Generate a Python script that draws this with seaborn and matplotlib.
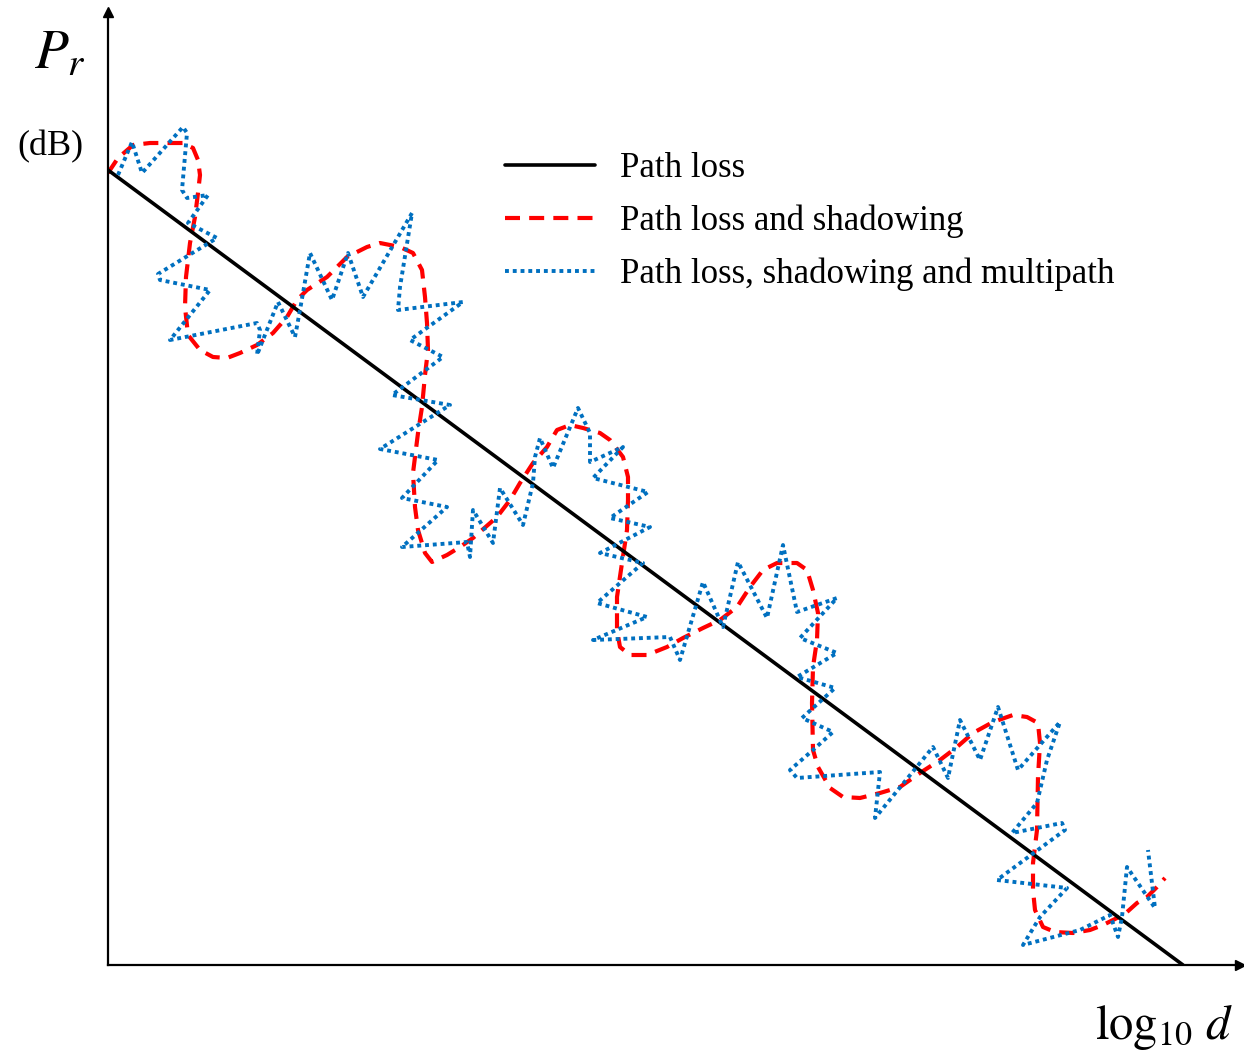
import matplotlib
matplotlib.use("Agg")
import matplotlib.pyplot as plt
import seaborn as sns

# Deterministic path loss: straight decline against log-distance
pl_logd = [0, 1075]
pl_pr = [795, 0]

# Path loss with slow shadowing variations
sh_logd = [0, 10, 17, 25, 42, 75, 85, 90, 92, 90, 87, 82, 78, 77, 80, 92, 105, 119, 132, 149,
           165, 179, 189, 199, 219, 239, 259, 272, 292, 305, 314, 317, 319, 320, 317, 314, 310,
           305, 307, 310, 317, 324, 339, 352, 365, 389, 402, 412, 425, 439, 449, 462, 475, 492,
           502, 515, 520, 520, 519, 514, 509, 509, 512, 522, 539, 559, 575, 595, 612, 629, 642,
           655, 669, 689, 699, 705, 710, 709, 705, 704, 705, 710, 722, 735, 752, 772, 792, 812,
           832, 849, 865, 885, 905, 919, 930, 932, 930, 929, 925, 925, 927, 935, 947, 965, 982,
           995, 1009, 1019, 1029, 1039, 1049, 1057]
sh_pr = [792, 807, 813, 820, 822, 822, 817, 805, 790, 772, 748, 722, 688, 658, 630, 615, 608,
         607, 612, 620, 632, 648, 665, 675, 688, 708, 718, 722, 718, 712, 695, 668, 642, 615,
         590, 558, 532, 492, 458, 435, 412, 403, 410, 418, 427, 448, 465, 482, 502, 518, 535,
         540, 537, 532, 525, 508, 488, 465, 435, 402, 368, 335, 318, 310, 310, 318, 327, 337,
         345, 358, 378, 395, 402, 402, 395, 375, 352, 325, 298, 262, 215, 198, 177, 168, 167,
         172, 178, 192, 205, 218, 232, 243, 250, 248, 242, 222, 188, 135, 102, 75, 55, 38, 33,
         32, 35, 40, 47, 53, 62, 68, 78, 87]

# Path loss with shadowing and fast multipath fading
mp_logd = [10, 24, 34, 75, 79, 74, 79, 100, 80, 109, 50, 52, 102, 62, 149, 152, 149, 170, 187,
           192, 202, 224, 240, 255, 304, 292, 290, 355, 302, 335, 284, 342, 272, 330, 294, 339,
           294, 359, 362, 365, 385, 392, 415, 425, 427, 432, 445, 470, 482, 482, 515, 485, 540,
           502, 542, 492, 535, 489, 539, 485, 562, 572, 595, 615, 630, 659, 675, 689, 729, 692,
           729, 689, 727, 694, 725, 705, 682, 689, 772, 767, 825, 840, 852, 872, 890, 910, 952,
           939, 929, 904, 954, 957, 889, 959, 932, 915, 972, 1002, 1010, 1014, 1019, 1047, 1040]
mp_pr = [790, 823, 792, 838, 832, 775, 767, 770, 742, 727, 691, 685, 675, 625, 642, 635, 610,
         663, 628, 655, 712, 665, 712, 668, 752, 678, 655, 663, 625, 608, 570, 560, 516, 505,
         467, 458, 418, 423, 408, 455, 422, 477, 440, 482, 508, 527, 497, 557, 532, 503, 518,
         487, 473, 447, 438, 412, 402, 362, 348, 325, 328, 305, 383, 338, 403, 347, 420, 353,
         367, 327, 312, 288, 277, 247, 233, 215, 195, 187, 193, 147, 218, 187, 245, 205, 258,
         195, 243, 205, 162, 132, 142, 135, 85, 77, 48, 20, 35, 50, 28, 48, 98, 57, 115]

labels = ["Path loss", "Path loss and shadowing", "Path loss, shadowing and multipath"]

sns.set_theme(style="white")
plt.rcParams["font.family"] = ["Liberation Serif", "DejaVu Serif"]
plt.rcParams["mathtext.fontset"] = "stix"
plt.rcParams["text.color"] = "black"

W, H = 1244, 1061
fig = plt.figure(figsize=(W / 100, H / 100), dpi=100)
ax = fig.add_axes([108 / W, 96 / H, 1132 / W, 953 / H])

sns.lineplot(x=pl_logd, y=pl_pr, sort=False, estimator=None, color="black",
             linewidth=2.6, label=labels[0], ax=ax, zorder=3)
sns.lineplot(x=sh_logd, y=sh_pr, sort=False, estimator=None, color="#FF0000",
             linewidth=3.0, linestyle=(0, (3.6, 2.2)), label=labels[1], ax=ax, zorder=2)
sns.lineplot(x=mp_logd, y=mp_pr, sort=False, estimator=None, color="#0070C0",
             linewidth=2.8, linestyle=(0, (1, 1)), label=labels[2], ax=ax, zorder=4)

ax.set_xlim(0, 1132)
ax.set_ylim(0, 953)
ax.set_xticks([])
ax.set_yticks([])
ax.set_xlabel("")
ax.set_ylabel("")
for side in ("top", "right"):
    ax.spines[side].set_visible(False)
for side in ("left", "bottom"):
    ax.spines[side].set_color("black")
    ax.spines[side].set_linewidth(1.6)

# Arrow heads on the axes
ax.plot(1, 0, marker=">", color="black", markersize=7, transform=ax.transAxes, clip_on=False)
ax.plot(0, 1, marker="^", color="black", markersize=7, transform=ax.transAxes, clip_on=False)

leg = ax.legend(loc="upper left", bbox_to_anchor=(505 / W, 1 - 152 / H),
                bbox_transform=fig.transFigure, frameon=False, fontsize=25,
                handlelength=2.6, handletextpad=0.72, labelspacing=0.56,
                borderpad=0, borderaxespad=0)
for t in leg.get_texts():
    t.set_color("black")

fig.text(60 / W, 1 - 55 / H, r"$P_r$", fontsize=40, ha="center", va="center")
fig.text(50 / W, 1 - 147 / H, "(dB)", fontsize=26, ha="center", va="center")
fig.text(1164 / W, 1 - 1027 / H, r"$\log_{10}\,d$", fontsize=35, ha="center", va="center")

fig.savefig("out.png", dpi=100)
